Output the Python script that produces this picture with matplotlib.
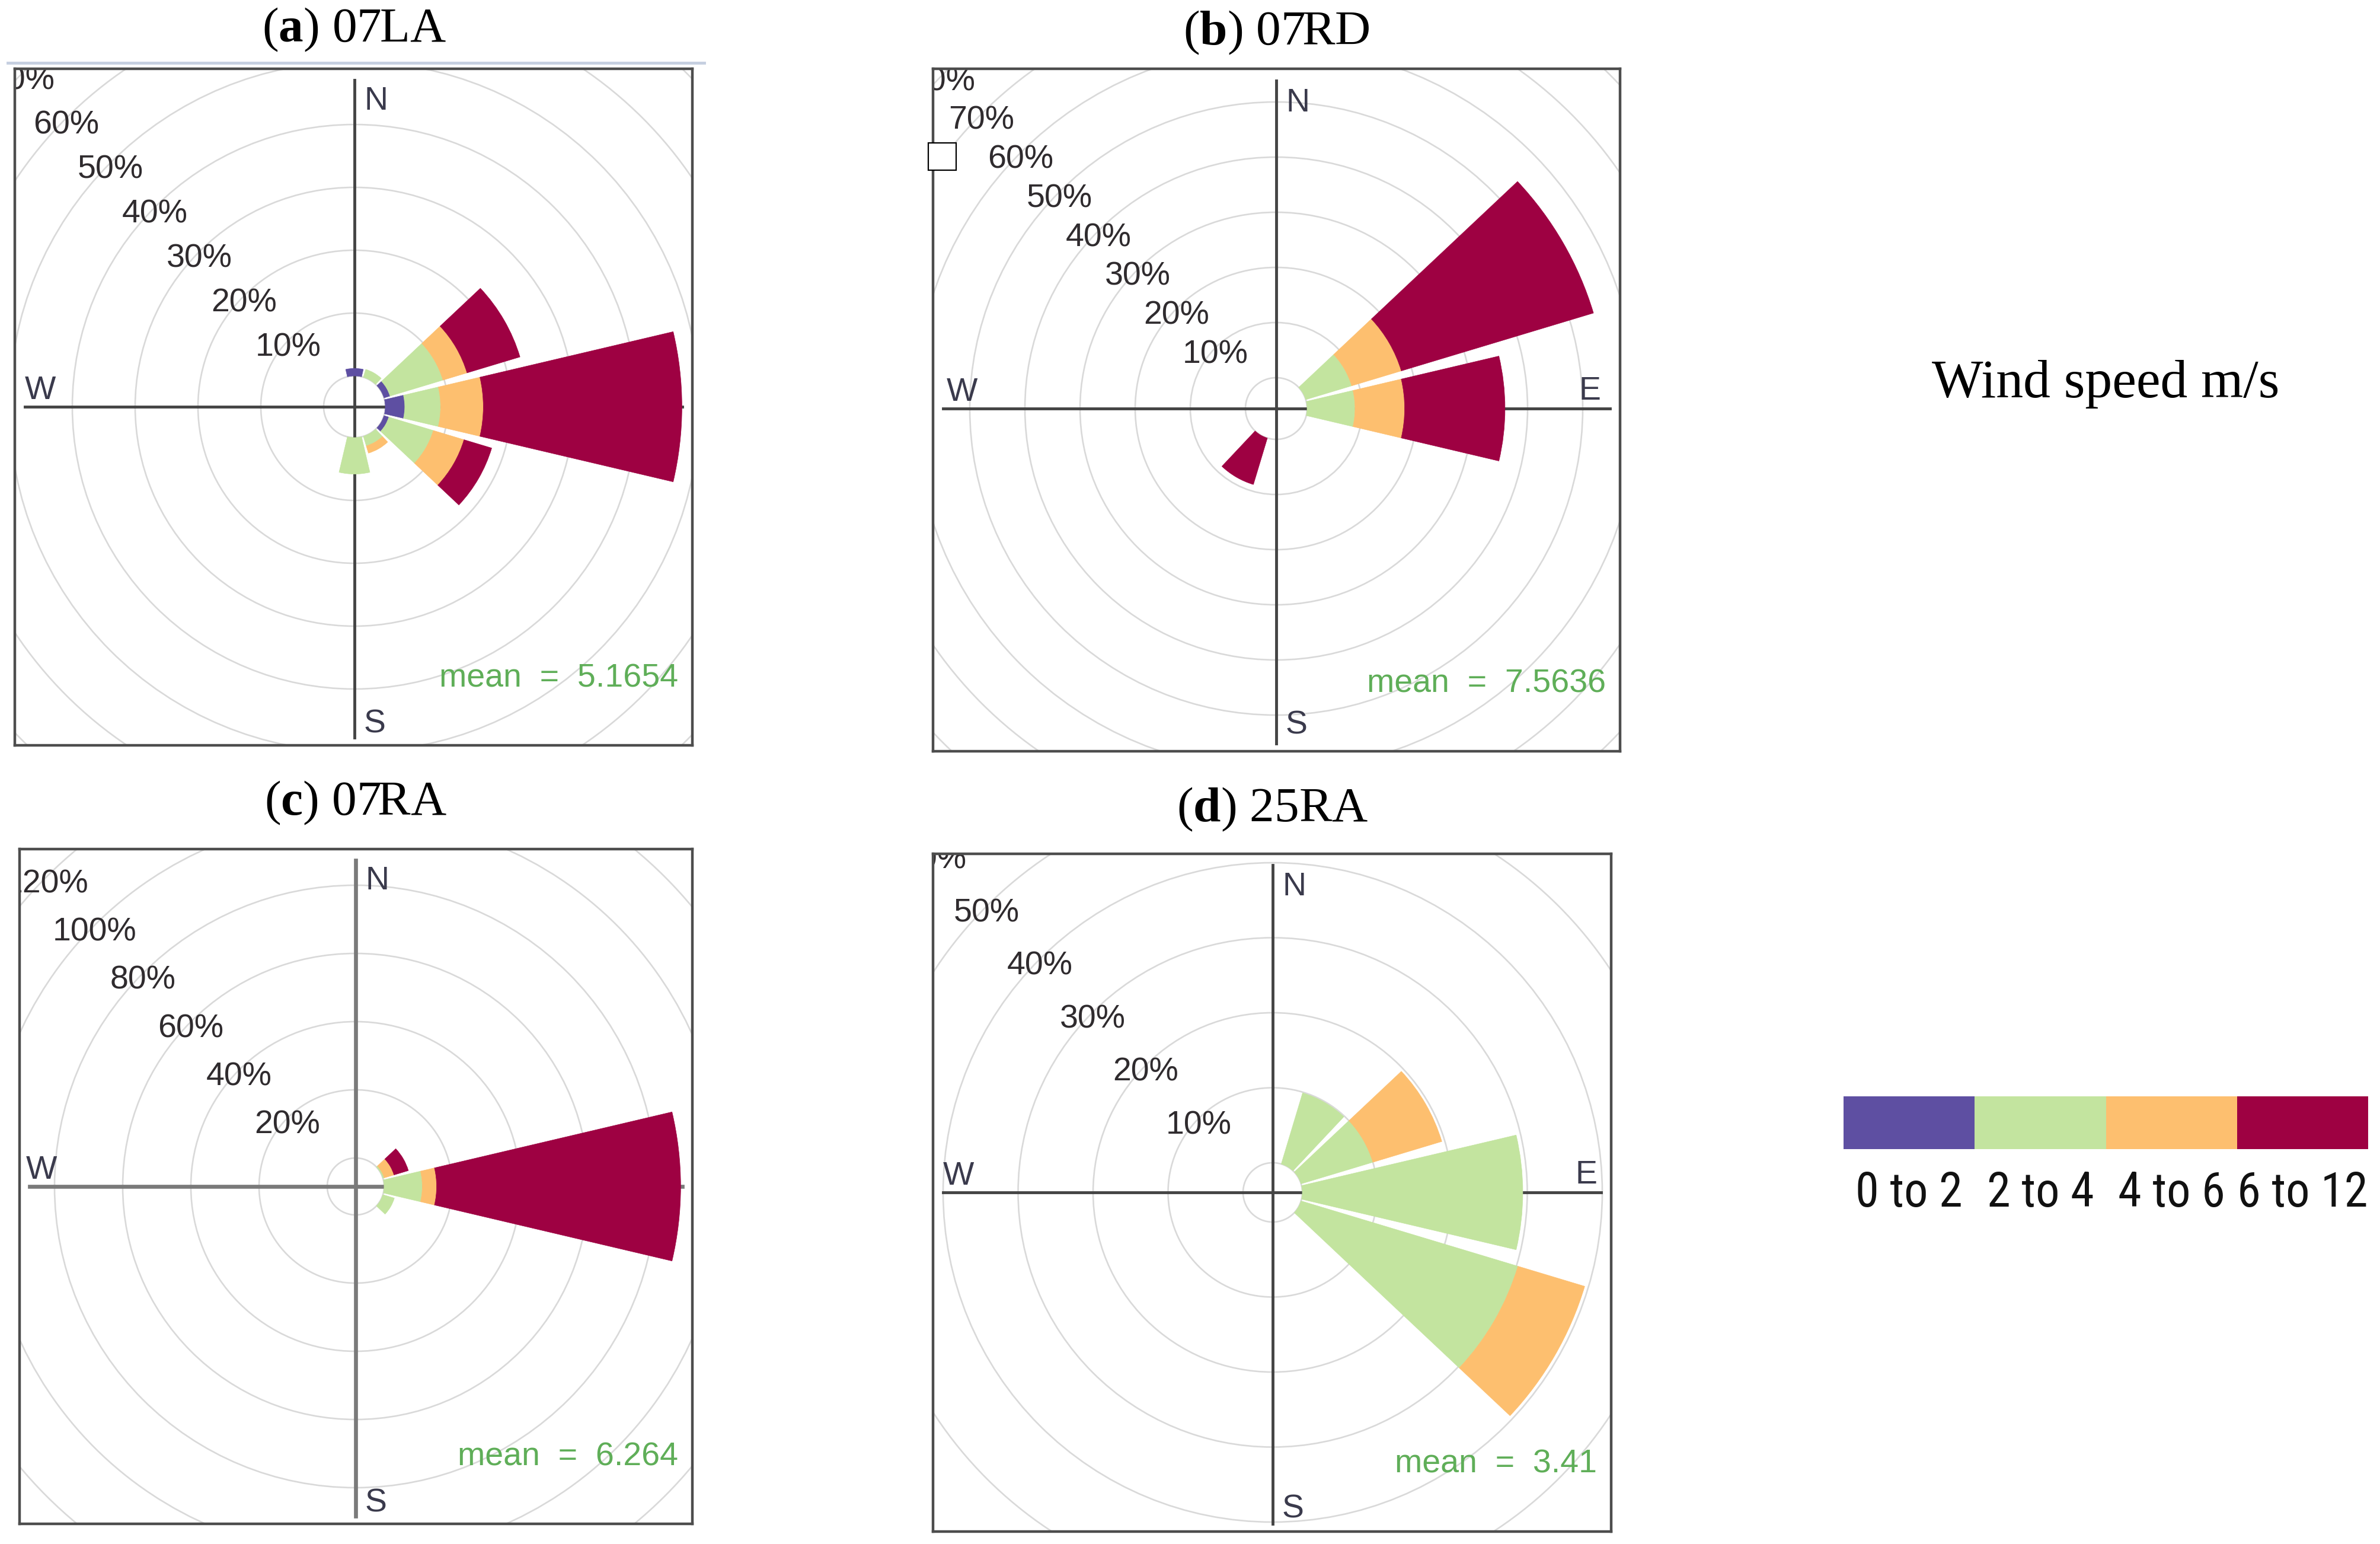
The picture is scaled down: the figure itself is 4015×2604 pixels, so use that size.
import numpy as np
import matplotlib
matplotlib.use('Agg')
import matplotlib.pyplot as plt
from matplotlib.patches import Wedge, Circle, Rectangle
from matplotlib import font_manager

W, H = 4015, 2604

# speed classes (m/s) and colours
speed_bins = ['0 to 2', '2 to 4', '4 to 6', '6 to 12']
bin_colors = ['#5e4fa2', '#c3e49f', '#fdbf6f', '#9e0142']

# direction = degrees clockwise from north, freq = % in each speed class
dirs_a = [0, 30, 60, 90, 120, 150, 180]
freq_a = [[1.2, 0.0, 0.0, 0.0],
          [0.0, 1.3, 0.0, 0.0],
          [1.0, 8.8, 4.0, 8.8],
          [3.1, 5.7, 6.8, 31.6],
          [0.8, 7.4, 5.1, 4.6],
          [0.0, 1.6, 1.2, 0.0],
          [0.0, 5.8, 0.0, 0.0]]
mean_a = '5.1654'

dirs_b = [60, 90, 210]
freq_b = [[0.0, 8.7, 9.4, 36.4],
          [0.0, 8.7, 9.0, 18.2],
          [0.0, 0.0, 0.0, 8.8]]
mean_b = '7.5636'

dirs_c = [60, 90, 120]
freq_c = [[0.0, 0.4, 3.0, 4.4],
          [0.0, 11.2, 4.2, 71.6],
          [0.0, 3.5, 0.0, 0.0]]
mean_c = '6.264'

dirs_d = [30, 60, 90, 120]
freq_d = [[0.0, 9.9, 0.0, 0.0],
          [0.0, 10.0, 9.6, 0.0],
          [0.0, 29.4, 0.0, 0.0],
          [0.0, 30.2, 9.3, 0.0]]
mean_d = '3.41'


def first_font(names):
    for n in names:
        try:
            font_manager.findfont(font_manager.FontProperties(family=n),
                                  fallback_to_default=False)
            return n
        except ValueError:
            pass
    return 'DejaVu Sans'


serif = first_font(['Liberation Serif', 'DejaVu Serif'])
sans = first_font(['Liberation Sans', 'DejaVu Sans'])
narrow = first_font(['Liberation Sans Narrow', 'Roboto Condensed',
                     'DejaVu Sans Condensed', 'Liberation Sans'])

plt.rcParams['mathtext.fontset'] = 'custom'
plt.rcParams['mathtext.rm'] = serif
plt.rcParams['mathtext.bf'] = serif + ':bold'

fig = plt.figure(figsize=(W / 100, H / 100), dpi=100, facecolor='white')


def draw_rose(box, centre, hole_px, s, step, dirs, freq, mean, title, title_xy,
              line_col='#444444', line_w=3.5):
    x0, y0, x1, y1 = box
    cx, cy = centre
    ax = fig.add_axes([x0 / W, 1 - y1 / H, (x1 - x0) / W, (y1 - y0) / H])
    ax.set_xlim((x0 - cx) / s, (x1 - cx) / s)
    ax.set_ylim((cy - y1) / s, (cy - y0) / s)
    ax.set_xticks([])
    ax.set_yticks([])
    for sp in ax.spines.values():
        sp.set_color('#4d4d4d')
        sp.set_linewidth(3.2)

    hole = hole_px / s
    rmax = np.hypot(max(cx - x0, x1 - cx), max(cy - y0, y1 - cy)) / s
    k = 0
    while hole + (k - 1) * step < rmax:
        r = hole + k * step
        ax.add_patch(Circle((0, 0), r, fill=False, ec='#d9d9d9', lw=1.9, zorder=1))
        if k > 0:
            d = r * np.cos(np.pi / 4)
            ax.text(-d, d - 12 / s, f'{k * step}%', fontsize=40, family=sans,
                    color='#2f2b2e', ha='center', va='center', clip_on=True, zorder=2)
        k += 1

    ax.axhline(0, xmin=0.015, xmax=0.985, color=line_col, lw=line_w, zorder=2)
    ax.axvline(0, ymin=0.011, ymax=0.983, color=line_col, lw=line_w, zorder=2)

    lab = dict(fontsize=40, family=sans, color='#3a3a4c', va='center', zorder=2)
    ax.text(16 / s, 515 / s, 'N', ha='left', **lab)
    ax.text(16 / s, -535 / s, 'S', ha='left', **lab)
    ax.text(-556 / s, 27 / s, 'W', ha='left', **lab)
    ax.text(548 / s, 29 / s, 'E', ha='right', **lab)

    # stacked sectors, 12 directions
    for dr, f in zip(dirs, freq):
        th = 90 - dr
        base = hole
        for v, c in zip(f, bin_colors):
            if v > 0:
                ax.add_patch(Wedge((0, 0), base + v, th - 13.25, th + 13.25, width=v,
                                   fc=c, ec=c, lw=0.5, zorder=3))
            base += v

    ax.text(1 - 24 / (x1 - x0), 113 / (y1 - y0), f'mean  =  {mean}',
            transform=ax.transAxes, ha='right', va='center', fontsize=40,
            family=sans, color='#5fae58', zorder=4)

    fig.text(title_xy[0] / W, 1 - title_xy[1] / H, title, ha='center', va='center',
             fontsize=60, family=serif)
    return ax


draw_rose((25, 116, 1168, 1257), (598, 686), 52, 10.6, 10, dirs_a, freq_a, mean_a,
          r'($\mathbf{a}$) 07LA', (598, 50))
draw_rose((1574, 116, 2733, 1267), (2153, 689), 52, 9.3, 10, dirs_b, freq_b, mean_b,
          r'($\mathbf{b}$) 07RD', (2153, 55))
draw_rose((33, 1432, 1168, 2570), (600, 2001), 48, 5.75, 20, dirs_c, freq_c, mean_c,
          r'($\mathbf{c}$) 07RA', (600, 1354), line_col='#7a7a7a', line_w=4.8)
draw_rose((1574, 1440, 2718, 2583), (2147, 2011), 50, 12.65, 10, dirs_d, freq_d, mean_d,
          r'($\mathbf{d}$) 25RA', (2147, 1365))

# thin rule above panel (a)
fig.add_artist(plt.Line2D([13 / W, 1188 / W], [1 - 106 / H, 1 - 106 / H],
                          transform=fig.transFigure, color='#c5cfe0', lw=3.5))
# small empty box left of panel (b)
fig.add_artist(Rectangle((1566 / W, 1 - 287 / H), 47 / W, 46 / H, transform=fig.transFigure,
                         fc='white', ec='black', lw=1.6))

fig.text(3552 / W, 1 - 648 / H, 'Wind speed m/s', ha='center', va='center',
         fontsize=66, family=serif)

# legend colour strip
lax = fig.add_axes([3110 / W, 1 - 1938 / H, 885 / W, 89 / H])
lax.bar(np.arange(len(speed_bins)), [1] * len(speed_bins), width=1, align='edge',
        color=bin_colors, edgecolor='none')
lax.set_xlim(0, len(speed_bins))
lax.set_ylim(0, 1)
lax.axis('off')
lsize = 58 if narrow != sans else 50
for i, t in enumerate(speed_bins):
    lax.text(i + 0.5, -0.84, t, ha='center', va='center', fontsize=lsize,
             family=narrow, color='#111111', clip_on=False)

fig.savefig('out.png', dpi=100, facecolor='white')
